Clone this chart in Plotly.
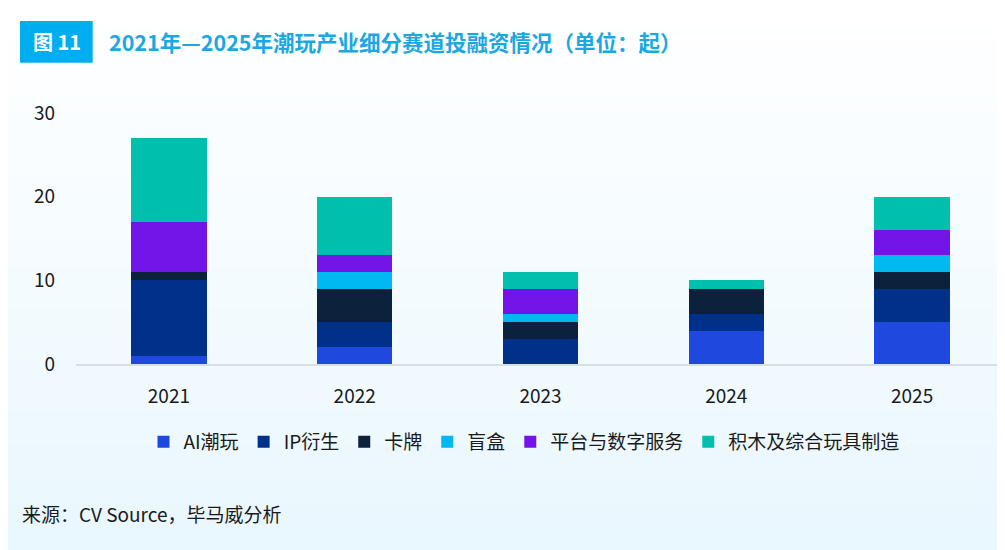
import base64
import struct
import zlib

import plotly.graph_objects as go

years = ["2021", "2022", "2023", "2024", "2025"]
series_names = ["AI潮玩", "IP衍生", "卡牌", "盲盒", "平台与数字服务", "积木及综合玩具制造"]
ai_toys = [1, 2, 0, 4, 5]
ip_derivs = [9, 3, 3, 2, 4]
cards = [1, 4, 2, 3, 2]
blind_box = [0, 2, 1, 0, 2]
platform = [6, 2, 3, 0, 3]
blocks = [10, 7, 2, 1, 4]
y_ticks = [0, 10, 20, 30]

colors = ["#1f49de", "#00318a", "#0c213b", "#00b9f1", "#7315e8", "#00bfad"]
FONT = "Noto Sans CJK SC"

# page body adds 8px around the figure, so the figure is 8px smaller
W, H = 997, 542
L, T, B = 68, 105, 186
PW, PH = W - L, H - T - B  # 929 x 251


def px_x(p):
    return (p - L) / PW


def px_y(p):
    return 1 - (p - T) / PH


def gradient_png(top, bottom, h=64):
    # tiny vertical gradient used as page background
    rows = b""
    for i in range(h):
        t = i / (h - 1)
        px = bytes(int(round(a + (b - a) * t)) for a, b in zip(top, bottom))
        rows += b"\x00" + px
    def chunk(tag, data):
        c = struct.pack(">I", len(data)) + tag + data
        return c + struct.pack(">I", zlib.crc32(tag + data) & 0xffffffff)
    png = b"\x89PNG\r\n\x1a\n"
    png += chunk(b"IHDR", struct.pack(">IIBBBBB", 1, h, 8, 2, 0, 0, 0))
    png += chunk(b"IDAT", zlib.compress(rows))
    png += chunk(b"IEND", b"")
    return "data:image/png;base64," + base64.b64encode(png).decode()


fig = go.Figure()
for name, vals, col in zip(series_names, [ai_toys, ip_derivs, cards, blind_box, platform, blocks], colors):
    fig.add_trace(go.Bar(x=years, y=vals, name=name, marker=dict(color=col, line_width=0)))

fig.update_layout(
    barmode="stack",
    bargap=0.595,
    width=W,
    height=H,
    margin=dict(l=L, r=0, t=T, b=B),
    paper_bgcolor="rgba(0,0,0,0)",
    plot_bgcolor="rgba(0,0,0,0)",
    font=dict(family=FONT, size=19, color="#1a1a1a"),
    showlegend=True,
    legend=dict(orientation="h", x=px_x(516), xanchor="center", y=px_y(434), yanchor="middle",
                font=dict(size=19, color="#1a1a1a"), itemwidth=30, traceorder="normal"),
    images=[dict(source=gradient_png((255, 255, 255), (233, 247, 254)), xref="paper", yref="paper",
                 x=px_x(0), y=px_y(0), sizex=W / PW, sizey=H / PH,
                 sizing="stretch", layer="below", xanchor="left", yanchor="top")],
)
fig.update_xaxes(showline=True, linecolor="#d9dee4", linewidth=2, ticks="", showgrid=False,
                 tickfont=dict(size=19), ticklabelstandoff=14)
fig.update_yaxes(range=[0, 30], tickvals=y_ticks, showgrid=False, zeroline=False, showline=False,
                 tickfont=dict(size=19), ticklabelstandoff=20)

# header badge and title
fig.add_shape(type="rect", xref="paper", yref="paper", x0=px_x(12), x1=px_x(84.7),
              y0=px_y(54.7), y1=px_y(13), fillcolor="#00aeef", line_width=0)
fig.add_annotation(text="<b>图 11</b>", xref="paper", yref="paper", x=px_x(48.7), y=px_y(33.8),
                   xanchor="center", yanchor="middle", showarrow=False,
                   font=dict(size=20, color="white", family=FONT))
fig.add_annotation(text="<b>2021年—2025年潮玩产业细分赛道投融资情况（单位：起）</b>",
                   xref="paper", yref="paper", x=px_x(98.7), y=px_y(33.8),
                   xanchor="left", yanchor="middle", showarrow=False,
                   font=dict(size=21.5, color="#1aa8e3", family=FONT))
fig.add_annotation(text="来源：CV Source，毕马威分析", xref="paper", yref="paper",
                   x=px_x(12), y=px_y(505), xanchor="left", yanchor="middle", showarrow=False,
                   font=dict(size=19, color="#1a1a1a", family=FONT))

fig.write_html("out.html")
